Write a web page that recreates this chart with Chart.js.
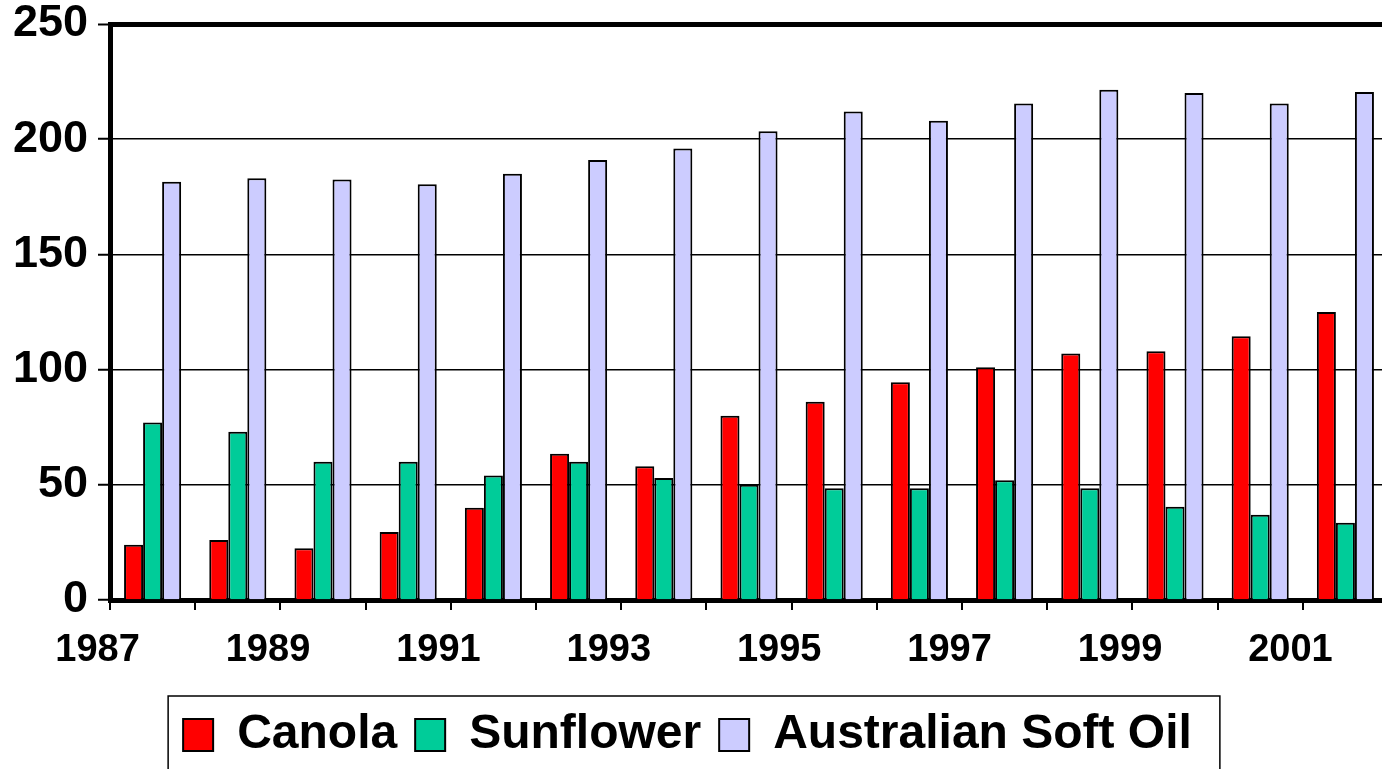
<!DOCTYPE html>
<html>
<head>
<meta charset="utf-8">
<script src="https://cdn.jsdelivr.net/npm/chart.js@4.4.1/dist/chart.umd.min.js"></script>
<style>
  html, body { margin: 0; padding: 0; background: #fff; overflow: hidden; }
  #wrap { width: 1388px; height: 769px; }
  canvas { display: block; }
</style>
</head>
<body>
<div id="wrap"><canvas id="c" width="1388" height="769" style="width:1388px;height:769px"></canvas></div>
<script>
const years = ['1987','1988','1989','1990','1991','1992','1993','1994','1995','1996','1997','1998','1999','2000','2001'];
const canola = [24, 26, 22.5, 29.5, 40, 63.5, 58, 80, 86, 94.5, 101, 107, 108, 114.5, 125];
const sunflower = [77, 73, 60, 60, 54, 60, 53, 50, 48.5, 48.5, 52, 48.5, 40.5, 37, 33.5];
const softOil = [181.5, 183, 182.5, 180.5, 185, 191, 196, 203.5, 212, 208, 215.5, 221.5, 220, 215.5, 220.5];
const seriesNames = ['Canola', 'Sunflower', 'Australian Soft Oil'];
const yMin = 0, yMax = 250, yStep = 50;

const FONT = '"Liberation Sans", Arial, Helvetica, sans-serif';

const legendFrame = {
  id: 'legendFrame',
  afterLayout(chart) {
    chart.legend.left -= 13;
  },
  afterDraw(chart) {
    const hb = chart.legend && chart.legend.legendHitBoxes;
    if (!hb || !hb.length) return;
    const ctx = chart.ctx;
    const last = hb[hb.length - 1];
    const left = hb[0].left - 15;
    const right = last.left + last.width + 28;
    const top = hb[0].top - 15;
    ctx.save();
    ctx.strokeStyle = '#000';
    ctx.lineWidth = 1.5;
    ctx.strokeRect(left, top, right - left, chart.height + 30 - top);
    ctx.restore();
  }
};

new Chart(document.getElementById('c'), {
  type: 'bar',
  data: {
    labels: years,
    datasets: [
      { label: seriesNames[0], data: canola, backgroundColor: '#FF0000', borderColor: '#000', borderWidth: 2 },
      { label: seriesNames[1], data: sunflower, backgroundColor: '#00CC99', borderColor: '#000', borderWidth: 2 },
      { label: seriesNames[2], data: softOil, backgroundColor: '#CCCCFF', borderColor: '#000', borderWidth: 2 }
    ]
  },
  options: {
    responsive: false,
    animation: false,
    devicePixelRatio: 1,
    categoryPercentage: 0.67,
    barPercentage: 1.0,
    layout: { padding: { top: 24, left: 0, right: 0, bottom: 0 } },
    plugins: {
      tooltip: { enabled: false },
      legend: {
        position: 'bottom',
        labels: {
          boxWidth: 30,
          boxHeight: 32,
          padding: 18,
          color: '#000',
          font: { family: FONT, size: 48, weight: 'bold' }
        }
      }
    },
    scales: {
      x: {
        z: 1,
        offset: true,
        grid: {
          offset: true,
          drawOnChartArea: false,
          drawTicks: true,
          tickLength: 10,
          color: '#000',
          lineWidth: 2
        },
        border: { display: true, color: '#000', width: 5 },
        ticks: {
          autoSkip: false,
          maxRotation: 0,
          minRotation: 0,
          color: '#000',
          padding: 18,
          labelOffset: -55,
          font: { family: FONT, size: 38, weight: 'bold', lineHeight: 1.2 },
          callback: function(value, index) { return index % 2 === 0 ? this.getLabelForValue(value) : ''; }
        },
        afterFit(scale) { scale.height = 93; scale.paddingLeft = 0; scale.paddingRight = 0; }
      },
      y: {
        min: yMin,
        max: yMax,
        grid: {
          color: '#000',
          lineWidth: (ctx) => (ctx.tick && ctx.tick.value === yMax ? 5 : 1.5),
          tickWidth: 2,
          tickLength: 12,
          drawTicks: true
        },
        border: { display: true, color: '#000', width: 5 },
        ticks: {
          stepSize: yStep,
          color: '#000',
          padding: 10,
          font: { family: FONT, size: 45, weight: 'bold', lineHeight: 1.0 }
        },
        afterFit(scale) { scale.width = 110; scale.paddingTop = 0; scale.paddingBottom = 0; }
      }
    }
  },
  plugins: [legendFrame]
});
</script>
</body>
</html>
